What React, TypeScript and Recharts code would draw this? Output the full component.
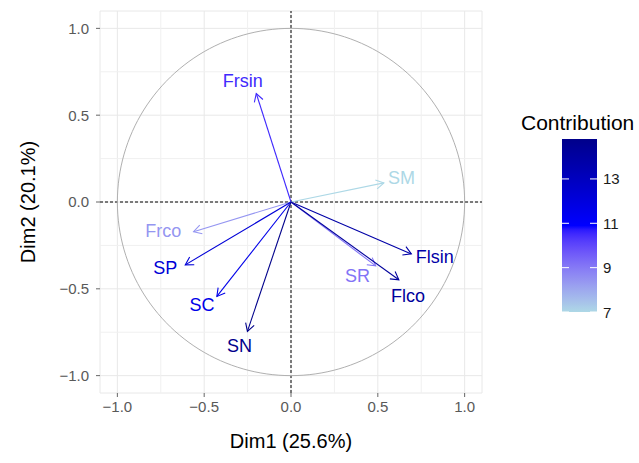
import React from 'react';
import { ScatterChart, Scatter, XAxis, YAxis, CartesianGrid, ReferenceLine } from 'recharts';

// Variable coordinates on the first two principal dimensions
const variables = ['Frsin', 'SM', 'Frco', 'SP', 'SC', 'SN', 'Flsin', 'SR', 'Flco'];
const dim1 = [-0.2, 0.535, -0.561, -0.609, -0.427, -0.251, 0.693, 0.488, 0.621];
const dim2 = [0.625, 0.11, -0.171, -0.362, -0.544, -0.745, -0.299, -0.368, -0.448];
const contrib = [10.5, 7.0, 8.4, 12.2, 11.6, 14.8, 13.8, 9.1, 14.2];

// repelled label anchors (data units)
const labelX = [-0.278, 0.636, -0.736, -0.724, -0.513, -0.297, 0.828, 0.383, 0.674];
const labelY = [0.695, 0.138, -0.167, -0.379, -0.592, -0.832, -0.314, -0.425, -0.544];

const axisTicks = [-1, -0.5, 0, 0.5, 1];
const minorTicks = [-0.75, -0.25, 0.25, 0.75];
const legendTicks = [7, 9, 11, 13];
const gradientCols = ['#ADD8E6', '#0000FF', '#00008B'];

const FONT = '"Liberation Sans", Arial, sans-serif';

// --- colour ramp in CIE Lab, like scale_colour_gradientn ---
const toLin = (c: number) => (c <= 0.04045 ? c / 12.92 : Math.pow((c + 0.055) / 1.055, 2.4));
const fromLin = (c: number) => (c <= 0.0031308 ? 12.92 * c : 1.055 * Math.pow(c, 1 / 2.4) - 0.055);
const hexToLab = (hex: string) => {
  const n = parseInt(hex.slice(1), 16);
  const r = toLin(((n >> 16) & 255) / 255);
  const g = toLin(((n >> 8) & 255) / 255);
  const b = toLin((n & 255) / 255);
  const X = (0.4124 * r + 0.3576 * g + 0.1805 * b) / 0.95047;
  const Y = 0.2126 * r + 0.7152 * g + 0.0722 * b;
  const Z = (0.0193 * r + 0.1192 * g + 0.9505 * b) / 1.08883;
  const f = (t: number) => (t > 0.008856 ? Math.cbrt(t) : 7.787 * t + 16 / 116);
  return [116 * f(Y) - 16, 500 * (f(X) - f(Y)), 200 * (f(Y) - f(Z))];
};
const labToHex = ([L, a, bb]: number[]) => {
  const fy = (L + 16) / 116;
  const fx = fy + a / 500;
  const fz = fy - bb / 200;
  const inv = (t: number) => (t * t * t > 0.008856 ? t * t * t : (t - 16 / 116) / 7.787);
  const X = inv(fx) * 0.95047;
  const Y = inv(fy);
  const Z = inv(fz) * 1.08883;
  const r = 3.2406 * X - 1.5372 * Y - 0.4986 * Z;
  const g = -0.9689 * X + 1.8758 * Y + 0.0415 * Z;
  const b = 0.0557 * X - 0.204 * Y + 1.057 * Z;
  const h = (c: number) =>
    Math.round(Math.min(1, Math.max(0, fromLin(c))) * 255)
      .toString(16)
      .padStart(2, '0');
  return `#${h(r)}${h(g)}${h(b)}`;
};
const labStops = gradientCols.map(hexToLab);
const cMin = Math.min(...contrib);
const cMax = Math.max(...contrib);
const colorAt = (t: number) => {
  const s = Math.min(1, Math.max(0, t)) * (labStops.length - 1);
  const i = Math.min(labStops.length - 2, Math.floor(s));
  const f = s - i;
  return labToHex(labStops[i].map((v, k) => v + (labStops[i + 1][k] - v) * f));
};
const contribColor = (v: number) => colorAt((v - cMin) / (cMax - cMin));

// unit correlation circle
const circle = Array.from({ length: 181 }, (_, i) => {
  const a = (i / 180) * 2 * Math.PI;
  return { x: Math.cos(a), y: Math.sin(a) };
});

const labels = variables.map((name, i) => ({
  x: labelX[i],
  y: labelY[i],
  name,
  color: contribColor(contrib[i]),
}));

const fmt = (v: number) => (v < 0 ? '\u2212' : '') + Math.abs(v).toFixed(1);

const arrowShape = (color: string) => (props: any) => {
  const { x1, y1, x2, y2 } = props;
  const ang = Math.atan2(y2 - y1, x2 - x1);
  const len = 9;
  const spread = Math.PI / 6;
  const ax = x2 - len * Math.cos(ang - spread);
  const ay = y2 - len * Math.sin(ang - spread);
  const bx = x2 - len * Math.cos(ang + spread);
  const by = y2 - len * Math.sin(ang + spread);
  return (
    <g>
      <line x1={x1} y1={y1} x2={x2} y2={y2} stroke={color} strokeWidth={1.1} />
      <polyline points={`${ax},${ay} ${x2},${y2} ${bx},${by}`} fill="none" stroke={color} strokeWidth={1.1} />
    </g>
  );
};

const LabelShape = (p: any) => (
  <text
    x={p.cx}
    y={p.cy}
    textAnchor="middle"
    dominantBaseline="central"
    fill={p.payload.color}
    fontSize={18}
    fontFamily={FONT}
  >
    {p.payload.name}
  </text>
);

const NoDot = () => <g />;

// colour bar geometry
const barX = 562;
const barW = 35;
const barTop = 139;
const barH = 173;
const barY = (v: number) => barTop + barH - ((v - cMin) / (cMax - cMin)) * barH;

export default function App() {
  const tickStyle = { fill: '#595959', fontSize: 15, fontFamily: FONT };
  return (
    <div style={{ position: 'relative', width: 639, height: 463, background: '#fff', fontFamily: FONT }}>
      <style>{'body{margin:0}'}</style>
      <ScatterChart width={639} height={463} margin={{ top: 11, right: 157, bottom: 0, left: 0 }}>
        <CartesianGrid stroke="#e8e8e8" strokeWidth={1} />
        {minorTicks.map((t) => (
          <ReferenceLine key={`vx${t}`} x={t} stroke="#f0f0f0" strokeWidth={1} />
        ))}
        {minorTicks.map((t) => (
          <ReferenceLine key={`hy${t}`} y={t} stroke="#f0f0f0" strokeWidth={1} />
        ))}
        <XAxis
          type="number"
          dataKey="x"
          domain={[-1.1, 1.1]}
          ticks={axisTicks}
          allowDataOverflow
          height={70}
          axisLine={false}
          tickLine={{ stroke: '#666' }}
          tickSize={4}
          tickMargin={4}
          tick={tickStyle}
          tickFormatter={fmt}
        />
        <YAxis
          type="number"
          dataKey="y"
          domain={[-1.1, 1.1]}
          ticks={axisTicks}
          allowDataOverflow
          width={100}
          axisLine={false}
          tickLine={{ stroke: '#666' }}
          tickSize={4}
          tickMargin={7}
          tick={tickStyle}
          tickFormatter={fmt}
        />
        <Scatter
          data={circle}
          line={{ stroke: '#b0b0b0', strokeWidth: 1 }}
          lineType="joint"
          shape={NoDot}
          isAnimationActive={false}
        />
        <ReferenceLine x={0} stroke="#000" strokeDasharray="3 2" strokeWidth={1} />
        <ReferenceLine y={0} stroke="#000" strokeDasharray="3 2" strokeWidth={1} />
        {variables.map((name, i) => (
          <ReferenceLine
            key={name}
            segment={[
              { x: 0, y: 0 },
              { x: dim1[i], y: dim2[i] },
            ]}
            ifOverflow="visible"
            shape={arrowShape(contribColor(contrib[i]))}
          />
        ))}
        <Scatter data={labels} shape={LabelShape} isAnimationActive={false} />
      </ScatterChart>

      <svg
        width={639}
        height={463}
        style={{ position: 'absolute', left: 0, top: 0, pointerEvents: 'none' }}
        fontFamily={FONT}
      >
        <defs>
          <linearGradient id="contribGrad" x1="0" y1="1" x2="0" y2="0">
            {Array.from({ length: 41 }, (_, i) => (
              <stop key={i} offset={`${(i / 40) * 100}%`} stopColor={colorAt(i / 40)} />
            ))}
          </linearGradient>
        </defs>
        <text x={291} y={441} textAnchor="middle" dominantBaseline="central" fontSize={20} fill="#000">
          Dim1 (25.6%)
        </text>
        <text
          x={28}
          y={202}
          textAnchor="middle"
          dominantBaseline="central"
          fontSize={20}
          fill="#000"
          transform="rotate(-90 28 202)"
        >
          Dim2 (20.1%)
        </text>
        <text x={521} y={122} dominantBaseline="central" fontSize={21} fill="#000">
          Contribution
        </text>
        <rect x={barX} y={barTop} width={barW} height={barH} fill="url(#contribGrad)" />
        {legendTicks.map((v) => (
          <g key={v}>
            <line x1={barX} x2={barX + 7} y1={barY(v)} y2={barY(v)} stroke="#fff" strokeWidth={1} />
            <line x1={barX + barW - 7} x2={barX + barW} y1={barY(v)} y2={barY(v)} stroke="#fff" strokeWidth={1} />
            <text x={603} y={barY(v)} dominantBaseline="central" fontSize={15} fill="#1a1a1a">
              {v}
            </text>
          </g>
        ))}
      </svg>
    </div>
  );
}
